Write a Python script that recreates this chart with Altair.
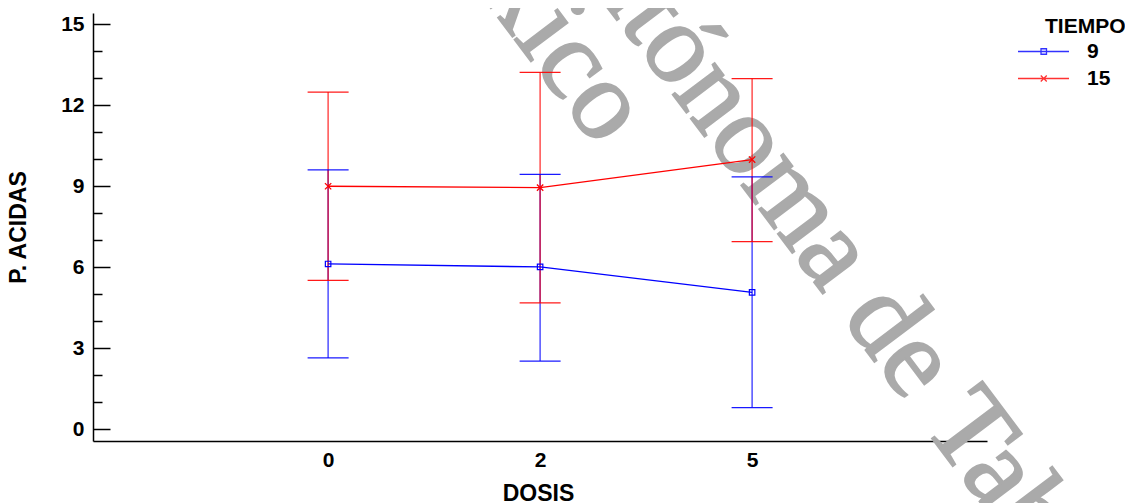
import json
import altair as alt
import pandas as pd

# ---------------- data ----------------
dosis_labels = ["0", "2", "5"]
tiempo_levels = ["9", "15"]
mean_9 = [6.12, 6.01, 5.07]
lo_9 = [2.64, 2.52, 0.80]
hi_9 = [9.61, 9.44, 9.35]
mean_15 = [9.00, 8.95, 9.99]
lo_15 = [5.51, 4.68, 6.95]
hi_15 = [12.49, 13.22, 12.99]
y_major = [0, 3, 6, 9, 12, 15]
y_all_ticks = list(range(0, 16))
series_colors = ["#0000ff", "#ff0000"]

rows = []
for t, c, m, lo, hi in [("9", series_colors[0], mean_9, lo_9, hi_9),
                        ("15", series_colors[1], mean_15, lo_15, hi_15)]:
    for i, d in enumerate(dosis_labels):
        rows.append({"pos": i, "dosis": d, "tiempo": t, "col": c,
                     "mean": m[i], "lo": lo[i], "hi": hi[i]})
df = pd.DataFrame(rows)

# ---------------- layout ----------------
W, H = 894, 428
FONT = "Liberation Sans"
xscale = alt.Scale(domain=[-1.109, 3.108], nice=False, zero=False)
yscale = alt.Scale(domain=[-0.44, 15.42], nice=False, zero=False)
cscale = alt.Scale(domain=tiempo_levels, range=series_colors)

label_expr = json.dumps(dosis_labels) + "[datum.value]"

xaxis = alt.Axis(values=[0, 1, 2], labelExpr=label_expr, title="DOSIS", grid=False,
                 ticks=False, tickSize=0, domainColor="black", domainWidth=1.5,
                 labelFont=FONT, labelFontSize=21, labelFontWeight="bold", labelColor="black",
                 labelPadding=8, titleFont=FONT, titleFontSize=23, titleFontWeight="bold",
                 titleColor="black", titleX=445, titleY=59, titleBaseline="alphabetic",
                 titleAlign="center")

yaxis_left = alt.Axis(values=y_major, title="P. ACIDAS", grid=False, ticks=False, tickSize=0,
                      domainColor="black", domainWidth=1.5, labelFont=FONT, labelFontSize=21,
                      labelFontWeight="bold", labelColor="black", labelPadding=9,
                      titleFont=FONT, titleFontSize=23, titleFontWeight="bold", titleColor="black",
                      titleAngle=270, titleX=-68, titleY=214, titleAlign="center",
                      titleBaseline="alphabetic")

yaxis_ticks = alt.Axis(orient="right", offset=-W, values=y_all_ticks, labels=False, domain=False,
                       title=None, grid=False, tickColor="black", tickWidth=1.5,
                       tickSize={"condition": {"test": "datum.value % 3 === 0", "value": 17}, "value": 9})

# legend symbols: line + marker as custom paths
p9 = "M-7.5,0H2.7M-2.9,-0.55H-1.8V0.55H-2.9Z"
p15 = "M-7.5,0H2.7M-2.95,-0.6L-1.75,0.6M-2.95,0.6L-1.75,-0.6"

leg = alt.Legend(title="TIEMPO", orient="none", legendX=952, legendY=2.5,
                 titleFont=FONT, titleFontSize=21, titleFontWeight="bold", titleColor="black",
                 titleAnchor="start", titlePadding=4.5, labelFont=FONT, labelFontSize=21,
                 labelFontWeight="bold", labelColor="black", labelOffset=21, symbolSize=100,
                 symbolStrokeWidth=1.3, symbolOpacity=1, rowPadding=5, padding=0)

# ---------------- watermark ----------------
one = alt.Data(values=[{"k": 1}])
wm_style = dict(font="Liberation Serif", fontSize=114, angle=53, baseline="alphabetic",
                color="#aaaaaa", stroke="#aaaaaa", strokeWidth=2)
wm0 = alt.Chart(one).mark_text(text="Universidad Juárez Aut", align="right", **wm_style).encode(
    x=alt.value(544), y=alt.value(34))
wm1 = alt.Chart(one).mark_text(text="ónoma de Tabasco", align="left", **wm_style).encode(
    x=alt.value(544), y=alt.value(34))
wm2 = alt.Chart(one).mark_text(text="México", align="right", **wm_style).encode(
    x=alt.value(504), y=alt.value(136))

# ---------------- data layers ----------------
col = alt.Color("col:N", scale=None)
xenc = alt.X("pos:Q", scale=xscale, axis=xaxis)

rules = alt.Chart(df).mark_rule(strokeWidth=1.3, opacity=0.8).encode(
    x=xenc,
    y=alt.Y("lo:Q", scale=yscale, axis=yaxis_left),
    y2="hi:Q",
    color=col,
)
caps_lo = alt.Chart(df).mark_tick(orient="horizontal", size=41, thickness=1.3, opacity=0.9).encode(
    x=xenc, y=alt.Y("lo:Q", scale=yscale, axis=None), color=col)
caps_hi = alt.Chart(df).mark_tick(orient="horizontal", size=41, thickness=1.3, opacity=0.9).encode(
    x=xenc, y=alt.Y("hi:Q", scale=yscale, axis=None), color=col)

lines = alt.Chart(df).mark_line(strokeWidth=1.3).encode(
    x=xenc, y=alt.Y("mean:Q", scale=yscale, axis=yaxis_ticks), color=col, detail="tiempo:N")

pts9 = alt.Chart(df).transform_filter("datum.tiempo == '9'").mark_point(
    shape="square", filled=False, size=30, strokeWidth=1.2, opacity=1).encode(
    x=xenc, y=alt.Y("mean:Q", scale=yscale, axis=None), color=col)
pts15 = alt.Chart(df).transform_filter("datum.tiempo == '15'").mark_point(
    shape="M-1,-1L1,1M-1,1L1,-1", filled=False, size=40, strokeWidth=1.3, opacity=1).encode(
    x=xenc, y=alt.Y("mean:Q", scale=yscale, axis=None), color=col)

legend_layer = alt.Chart(df).mark_point(filled=False, opacity=0).encode(
    x=xenc, y=alt.Y("mean:Q", scale=yscale, axis=None),
    color=alt.Color("tiempo:N", scale=cscale, legend=leg),
    shape=alt.Shape("tiempo:N", scale=alt.Scale(domain=tiempo_levels, range=[p9, p15]), legend=leg),
)

chart = alt.layer(wm0, wm1, wm2, rules, caps_lo, caps_hi, lines, pts9, pts15, legend_layer).resolve_axis(
    y="independent").properties(
    width=W, height=H,
    autosize=alt.AutoSizeParams(type="none"),
    padding={"left": 85, "top": 5, "right": 138, "bottom": 62},
    background="white",
).configure_view(strokeWidth=0)

chart.save("out.html", embed_options={"renderer": "svg", "actions": False})
